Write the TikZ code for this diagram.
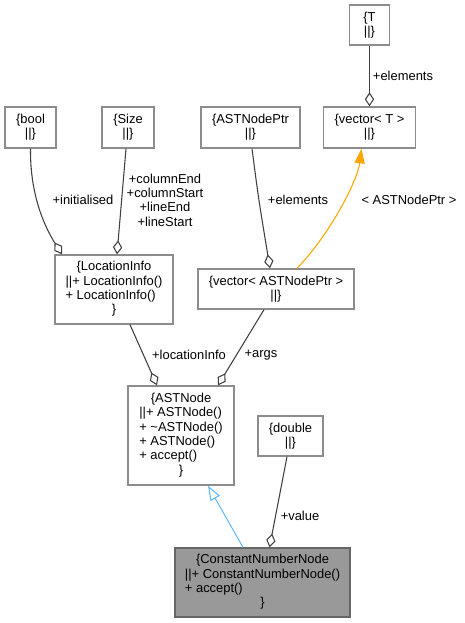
\documentclass[tikz,border=0pt]{standalone}
\usepackage{fontspec}
\setmainfont{Liberation Sans}
\usetikzlibrary{arrows.meta,calc}
\definecolor{edge}{HTML}{404040}
\definecolor{frame}{HTML}{8C8C8C}
\definecolor{hilite}{HTML}{999999}
\definecolor{steel}{HTML}{63B8FF}
\definecolor{tplorange}{HTML}{FFA500}
\newcommand{\ctrline}[1]{\multicolumn{1}{@{}c@{}}{#1}}

\begin{document}
\begin{tikzpicture}[x=0.75pt,y=-0.75pt,font=\fontsize{9.7}{10.7}\selectfont,
  cls/.style={draw=frame,line width=1pt,fill=white,inner sep=0pt,align=center},
  has/.style={draw=edge,line width=0.8pt,-{Diamond[open,length=10.5pt,width=7pt]}},
  isa/.style={draw=steel,line width=0.8pt,-{Triangle[open,length=11pt,width=8pt]}},
  inst/.style={draw=tplorange,line width=0.8pt,-{Triangle[length=11pt,width=7.5pt,fill=tplorange]}},
  lbl/.style={inner sep=0pt,align=center}]
\useasboundingbox (0,0) rectangle (464,623);
% classes
\node[cls,minimum width=30pt,minimum height=30pt] (t) at (369.5,25){\{T\\||\}};
\node[cls,minimum width=38.25pt,minimum height=30.75pt] (b) at (30.5,127.5){\{bool\\||\}};
\node[cls,minimum width=39pt,minimum height=30.75pt] (s) at (128,127.5){\{Size\\||\}};
\node[cls,minimum width=74.25pt,minimum height=30.75pt] (p) at (250.5,127.5){\{ASTNodePtr\\||\}};
\node[cls,minimum width=69pt,minimum height=30.75pt] (vt) at (369.5,127.5){\{vector< T >\\||\}};
\node[cls,minimum width=88.5pt,minimum height=51.75pt] (li) at (114,289.5){\begin{tabular}{@{}l@{}}\ctrline{\{LocationInfo}\\||+ LocationInfo()\\+ LocationInfo()\\\ctrline{\}}\end{tabular}};
\node[cls,minimum width=117pt,minimum height=30pt] (vp) at (276,289){\{vector< ASTNodePtr >\\||\}};
\node[cls,minimum width=79.5pt,minimum height=74.25pt] (an) at (181,435.5){\begin{tabular}{@{}l@{}}\ctrline{\{ASTNode}\\||+ ASTNode()\\+ \textasciitilde ASTNode()\\+ ASTNode()\\+ accept()\\\ctrline{\}}\end{tabular}};
\node[cls,minimum width=48.75pt,minimum height=30pt] (db) at (290.5,436){\{double\\||\}};
\node[cls,fill=hilite,draw=gray!80!black,minimum width=131.25pt,minimum height=51.75pt] (cn) at (262.5,582.5){\begin{tabular}{@{}l@{}}\ctrline{\{ConstantNumberNode}\\||+ ConstantNumberNode()\\+ accept()\\\ctrline{\}}\end{tabular}};
% edge labels
\node[lbl] (lte) at (403,76){+elements};
\node[lbl] (lbi) at (83,200){+initialised};
\node[lbl] (lsz) at (165,200){+columnEnd\\+columnStart\\+lineEnd\\+lineStart};
\node[lbl] (lpe) at (298,200){+elements};
\node[lbl] (lvt) at (409,200){< ASTNodePtr >};
\node[lbl] (lli) at (189,355){+locationInfo};
\node[lbl] (lar) at (261,355){+args};
\node[lbl] (ldv) at (300,516){+value};
% connectors
\draw[has] (t) -- (vt);
\draw[has] (b.south) .. controls ($(b.south)+(-0.5,47)$) and ($(li.north)+(-69,-27)$) .. ($(li.north)+(-52,0)$);
\draw[has] ($(s.south)+(-2,0)$) -- ($(li.north)+(3,0)$);
\draw[has] ($(p.south)+(1.5,0)$) .. controls ($(p.south)+(8,50)$) .. ($(vp.north)+(-6,0)$);
\draw[inst] ($(vp.north)+(21,0)$) .. controls ($(vp.north)+(54,-34)$) and ($(vt.south)+(-12,32)$) .. ($(vt.south)+(-8,0)$);
\draw[has] ($(li.south)+(16,0)$) -- ($(an.north)+(-24,0)$);
\draw[has] ($(vp.south)+(-12,0)$) -- ($(an.north)+(37,0)$);
\draw[isa] ($(cn.north)+(-19.5,0)$) -- ($(an.south)+(27,0)$);
\draw[has] ($(db.south)+(-3.5,0)$) -- ($(cn.north)+(7,0)$);
\end{tikzpicture}
\end{document}
